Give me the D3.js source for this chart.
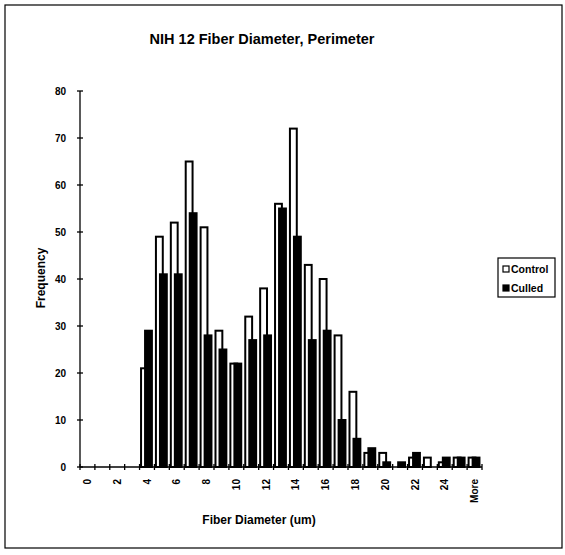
<!DOCTYPE html>
<html lang="en">
<head>
    <meta charset="UTF-8">
    <title>NIH 12 Fiber Diameter, Perimeter</title>
    <script src="https://d3js.org/d3.v7.min.js"></script>
    <style>
        body { margin: 0; background: #fff; }
        text { font-family: "Liberation Sans", Arial, sans-serif; font-weight: bold; fill: #000; }
    </style>
</head>
<body>
    <div id="chart"></div>
    <script>
        // bins of the histogram
        const categories = ["0","1","2","3","4","5","6","7","8","9","10","11","12","13","14","15","16","17","18","19","20","21","22","23","24","25","More"];
        const tickLabels = ["0","2","4","6","8","10","12","14","16","18","20","22","24","More"];
        const control = [0,0,0,0,21,49,52,65,51,29,22,32,38,56,72,43,40,28,16,3,3,0,2,2,1,2,2];
        const culled  = [0,0,0,0,29,41,41,54,28,25,22,27,28,55,49,27,29,10,6,4,1,1,3,0,2,2,2];
        const yTicks = [0,10,20,30,40,50,60,70,80];

        const W = 565, H = 555;
        const plot = { left: 80, right: 482, top: 91, bottom: 467 };

        const svg = d3.select("#chart").append("svg")
            .attr("width", W).attr("height", H);

        // outer chart border
        svg.append("rect")
            .attr("x", 5).attr("y", 5).attr("width", 557).attr("height", 543)
            .attr("fill", "none").attr("stroke", "#000").attr("stroke-width", 1.2);

        const x = d3.scaleBand().domain(categories).range([plot.left, plot.right]);
        const y = d3.scaleLinear().domain([0, 80]).range([plot.bottom, plot.top]);
        const bw = x.bandwidth() * 0.46;

        // control bars (white), culled drawn on top (black)
        svg.selectAll(".ctl").data(control).enter().append("rect")
            .attr("x", (d, i) => x(categories[i]) + x.bandwidth() * 0.1)
            .attr("y", d => y(d))
            .attr("width", bw)
            .attr("height", d => y(0) - y(d))
            .attr("fill", "#fff").attr("stroke", "#000").attr("stroke-width", 2);

        svg.selectAll(".cul").data(culled).enter().append("rect")
            .attr("x", (d, i) => x(categories[i]) + x.bandwidth() * 0.37)
            .attr("y", d => y(d))
            .attr("width", bw)
            .attr("height", d => y(0) - y(d))
            .attr("fill", "#000").attr("stroke", "#000").attr("stroke-width", 2);

        // y axis with crossing ticks
        svg.append("line").attr("x1", plot.left).attr("x2", plot.left).attr("y1", plot.bottom).attr("y2", plot.top)
            .attr("stroke", "#000").attr("stroke-width", 1.3);
        svg.selectAll(".yt").data(yTicks).enter().append("line")
            .attr("x1", plot.left - 3).attr("x2", plot.left + 3)
            .attr("y1", d => y(d)).attr("y2", d => y(d))
            .attr("stroke", "#000").attr("stroke-width", 1.3);
        svg.selectAll(".yl").data(yTicks).enter().append("text")
            .attr("x", plot.left - 14).attr("y", d => y(d) + 3.5)
            .attr("text-anchor", "end").attr("font-size", 10)
            .text(d => d);

        // x axis with crossing ticks at bin edges
        svg.append("line").attr("x1", plot.left).attr("x2", plot.right).attr("y1", plot.bottom).attr("y2", plot.bottom)
            .attr("stroke", "#000").attr("stroke-width", 1.3);
        const edges = categories.map(c => x(c)).concat([plot.right]);
        svg.selectAll(".xt").data(edges).enter().append("line")
            .attr("x1", d => d).attr("x2", d => d)
            .attr("y1", plot.bottom - 3).attr("y2", plot.bottom + 3)
            .attr("stroke", "#000").attr("stroke-width", 1.3);
        svg.selectAll(".xl").data(tickLabels).enter().append("text")
            .attr("transform", d => `translate(${x(d) + x.bandwidth() / 2 + 3.5},${plot.bottom + 12}) rotate(-90)`)
            .attr("text-anchor", "end").attr("font-size", 10)
            .text(d => d);

        // titles
        svg.append("text").attr("x", 262).attr("y", 44)
            .attr("text-anchor", "middle").attr("font-size", 14.5)
            .text("NIH 12 Fiber Diameter, Perimeter");
        svg.append("text").attr("x", 259).attr("y", 524)
            .attr("text-anchor", "middle").attr("font-size", 12)
            .text("Fiber Diameter (um)");
        svg.append("text")
            .attr("transform", "translate(45,278) rotate(-90)")
            .attr("text-anchor", "middle").attr("font-size", 12)
            .text("Frequency");

        // legend
        const lg = svg.append("g");
        lg.append("rect").attr("x", 498).attr("y", 258).attr("width", 57).attr("height", 39)
            .attr("fill", "#fff").attr("stroke", "#000").attr("stroke-width", 1.2);
        const legendItems = [["Control", "#fff"], ["Culled", "#000"]];
        legendItems.forEach((d, i) => {
            lg.append("rect").attr("x", 503).attr("y", 266 + i * 19).attr("width", 6).attr("height", 6)
                .attr("fill", d[1]).attr("stroke", "#000").attr("stroke-width", 1.2);
            lg.append("text").attr("x", 511).attr("y", 273 + i * 19)
                .attr("font-size", 10.5).text(d[0]);
        });
    </script>
</body>
</html>
